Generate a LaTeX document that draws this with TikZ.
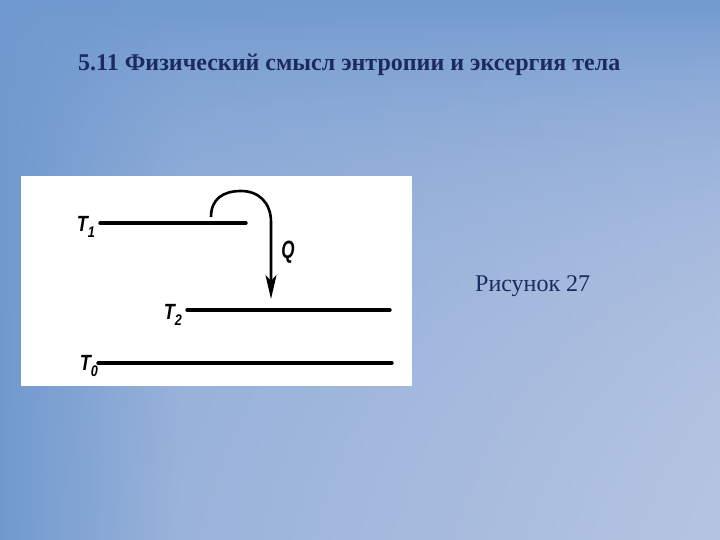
\documentclass[tikz,border=0pt]{standalone}
\usepackage{fontspec}
\setmainfont{Liberation Serif}
\newfontfamily\lsans{Liberation Sans}
\usetikzlibrary{arrows.meta}
\definecolor{navy}{HTML}{1B2B5E}
\definecolor{bgdark}{rgb}{0.44,0.60,0.81}
\definecolor{bglight}{rgb}{0.73,0.78,0.89}
\newcommand{\tlab}[1]{{\lsans\bfseries\itshape\scalebox{0.9}[1.1]{T}\raisebox{-6bp}{\fontsize{14bp}{14bp}\selectfont\scalebox{0.9}[1.1]{#1}}}}
\tikzset{
  level/.style={line width=3.4bp, line cap=round},
  lab/.style={inner sep=0pt, font=\fontsize{20bp}{20bp}\selectfont},
  flow/.style={line width=2.6bp, -{Stealth[length=24bp, width=11bp, inset=6bp]}},
}
\begin{document}
\begin{tikzpicture}[x=1bp, y=-1bp]
\useasboundingbox (0,0) rectangle (720,540);
% background gradient: dark along left and top edges, light towards bottom right
\foreach \i in {0,...,53} {
  \pgfmathsetmacro\tt{1-exp(-(\i*10+5)/170)}
  \pgfmathsetmacro\pa{100*\tt*0.59}
  \pgfmathsetmacro\pb{100*\tt*0.89}
  \pgfmathsetmacro\pc{100*\tt*0.97}
  \colorlet{ca}{bglight!\pa!bgdark}
  \colorlet{cb}{bglight!\pb!bgdark}
  \colorlet{cc}{bglight!\pc!bgdark}
  \shade[left color=bgdark, right color=ca] (0,\i*10) rectangle (180.5,\i*10+10.5);
  \shade[left color=ca, middle color=cb, right color=cc] (180,\i*10) rectangle (720,\i*10+10.5);
}
\node[anchor=base west, inner sep=0pt, text=navy, font=\fontsize{24bp}{28bp}\selectfont\bfseries] (title) at (78,71) {5.11 Физический смысл энтропии и эксергия тела};
\node[anchor=base west, inner sep=0pt, text=navy, font=\fontsize{24bp}{28bp}\selectfont] (cap) at (475,291) {Рисунок 27};
\fill[white] (21,176) rectangle (412,386);
% levels
\coordinate (t1s) at (100,223); \coordinate (t1e) at (246,223);
\coordinate (t2s) at (187,310); \coordinate (t2e) at (390,310);
\coordinate (t0s) at (98,363);  \coordinate (t0e) at (392,363);
\draw[level] (t1s) -- (t1e);
\draw[level] (t2s) -- (t2e);
\draw[level] (t0s) -- (t0e);
\node[lab, anchor=east] (T1) at (95,227) {\tlab{1}};
\node[lab, anchor=east] (T2) at (182,315) {\tlab{2}};
\node[lab, anchor=east] (T0) at (98,366) {\tlab{0}};
% heat flow
\coordinate (as) at (211,217);
\coordinate (atop) at (241,191);
\coordinate (ae) at (271,299);
\draw[flow] (as) .. controls (211,199) and (223,191) .. (atop) .. controls (259,191) and (271,203) .. (271,222) -- (ae);
\node[inner sep=0pt, font=\lsans\bfseries\itshape\fontsize{20bp}{20bp}\selectfont] (Q) at (288,252) {\scalebox{0.85}[1.25]{Q}};
\end{tikzpicture}
\end{document}
